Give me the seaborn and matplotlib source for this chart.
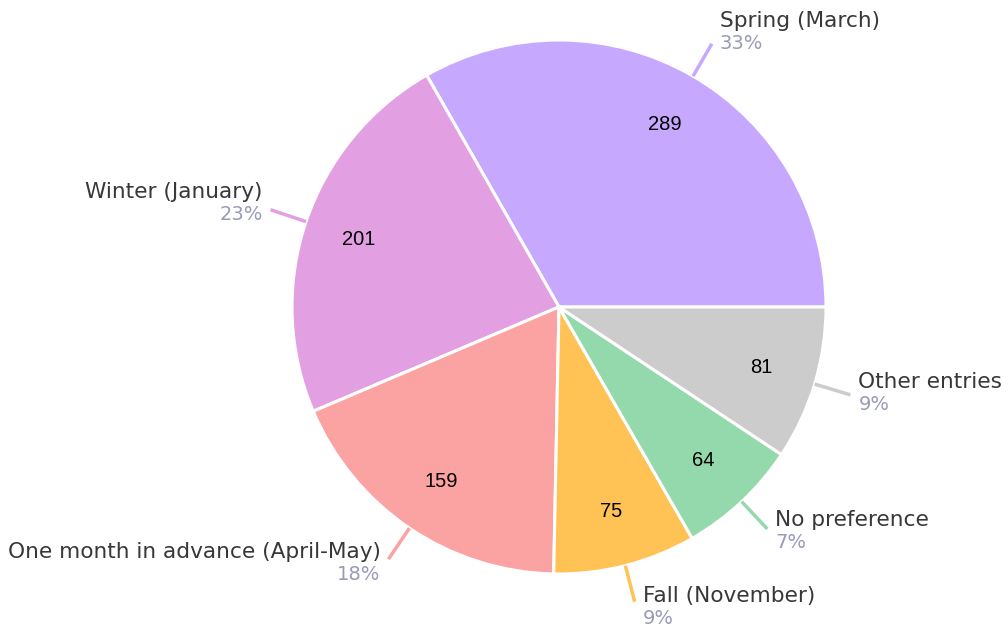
import numpy as np
import matplotlib
matplotlib.use('Agg')
import matplotlib.pyplot as plt
import seaborn as sns

# survey answers, in the order drawn (counter-clockwise from 3 o'clock)
categories = ['Spring (March)', 'Winter (January)', 'One month in advance (April-May)',
              'Fall (November)', 'No preference', 'Other entries']
counts = [289, 201, 159, 75, 64, 81]
slice_colors = ['#C6A8FE', '#E2A0E3', '#FBA3A3', '#FFC255', '#94D9AC', '#CCCCCC']

sns.set_theme(style='white')
plt.rcParams['font.family'] = ['DejaVu Sans']

fig = plt.figure(figsize=(10.08, 6.28), dpi=100)
ax = fig.add_axes([0, 0, 1, 1])
ax.set_aspect('equal')
ax.axis('off')

cx, cy, r = 559, 321, 267
total = sum(counts)
palette = sns.color_palette(slice_colors)

wedges, texts, autotexts = ax.pie(
    counts,
    colors=palette,
    startangle=0,
    counterclock=True,
    center=(cx, cy),
    radius=r,
    autopct=lambda p: f'{p * total / 100:.0f}',
    pctdistance=0.79,
    wedgeprops=dict(edgecolor='white', linewidth=2.2),
    textprops=dict(fontsize=14.5, family='Liberation Sans', color='black'),
)
ax.set_xlim(0, 1008)
ax.set_ylim(0, 628)

# outside labels with short leader lines
for w, name, n in zip(wedges, categories, counts):
    ang = np.deg2rad((w.theta1 + w.theta2) / 2)
    c, s = np.cos(ang), np.sin(ang)
    x0, y0 = cx + r * c, cy + r * s
    x1, y1 = cx + 1.14 * r * c, cy + 1.14 * r * s
    ax.plot([x0, x1], [y0, y1], color=w.get_facecolor(), lw=2.5, solid_capstyle='butt')
    side = 1 if c > 0 else -1
    ha = 'left' if side > 0 else 'right'
    tx = x1 + 8 * side
    yb = y1 + 4 + 9 * s
    pct = f'{round(100 * n / total)}%'
    ax.text(tx, yb + 5, name, ha=ha, va='baseline', fontsize=15.6, color='#383838')
    ax.text(tx, yb - 2, pct, ha=ha, va='top', fontsize=14, color='#9A9AB9')

fig.savefig('out.png', dpi=100)
